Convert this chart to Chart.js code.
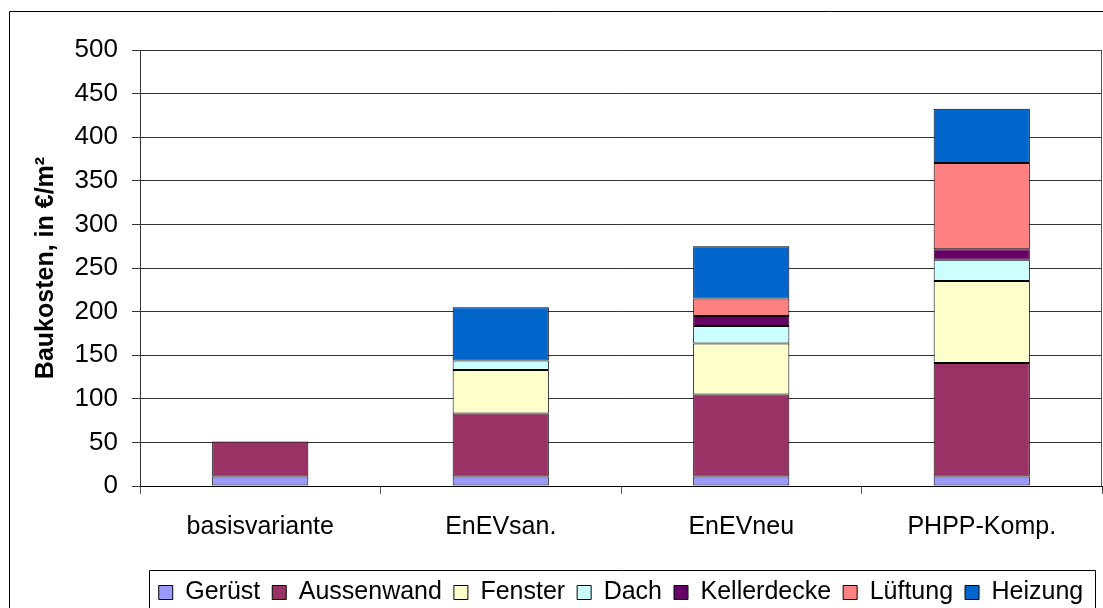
<!DOCTYPE html>
<html>
<head>
<meta charset="utf-8">
<script src="https://cdn.jsdelivr.net/npm/chart.js@4/dist/chart.umd.min.js"></script>
<style>
    html, body { margin: 0; padding: 0; background: #fff; overflow: hidden; }
    #wrap { position: relative; width: 1103px; height: 619px; }
</style>
</head>
<body>
<div id="wrap"><canvas id="costChart"></canvas></div>
<script>
const categories = ['basisvariante', 'EnEVsan.', 'EnEVneu', 'PHPP-Komp.'];
const geruest = [11, 11, 11, 11];
const aussenwand = [40, 72, 94, 130];
const fenster = [null, 50, 58.5, 94];
const dach = [null, 11, 20, 24.5];
const kellerdecke = [null, null, 11.5, 12];
const lueftung = [null, null, 20, 99];
const heizung = [null, 61, 60, 62];
const yTicks = [0, 50, 100, 150, 200, 250, 300, 350, 400, 450, 500];

const FONT = "'Liberation Sans', Arial, sans-serif";

function series(label, data, color) {
    return {
        label: label,
        data: data,
        backgroundColor: color,
        borderColor: '#000',
        borderWidth: 1,
        borderSkipped: false,
        barPercentage: 0.4,
        categoryPercentage: 1
    };
}

// outer frame, plot frame and legend box like the original
const framePlugin = {
    id: 'frames',
    afterDraw(chart) {
        const ctx = chart.ctx;
        const area = chart.chartArea;
        ctx.save();
        ctx.strokeStyle = '#000';
        ctx.lineWidth = 1;
        ctx.beginPath();
        ctx.moveTo(9.5, chart.height + 5);
        ctx.lineTo(9.5, 11.5);
        ctx.lineTo(chart.width + 5, 11.5);
        ctx.stroke();

        ctx.strokeStyle = '#555';
        ctx.beginPath();
        ctx.moveTo(Math.round(area.right) - 0.5, area.top);
        ctx.lineTo(Math.round(area.right) - 0.5, area.bottom);
        ctx.stroke();

        const boxes = chart.legend.legendHitBoxes || [];
        if (boxes.length) {
            const left = Math.min(...boxes.map((b) => b.left)) - 10;
            const right = Math.max(...boxes.map((b) => b.left + b.width)) + 12;
            const top = Math.min(...boxes.map((b) => b.top)) - 10;
            ctx.strokeStyle = '#000';
            ctx.beginPath();
            ctx.moveTo(Math.round(left) + 0.5, chart.height + 5);
            ctx.lineTo(Math.round(left) + 0.5, Math.round(top) + 0.5);
            ctx.lineTo(Math.round(right) + 0.5, Math.round(top) + 0.5);
            ctx.lineTo(Math.round(right) + 0.5, chart.height + 5);
            ctx.stroke();
        }
        ctx.restore();
    }
};

new Chart(document.getElementById('costChart'), {
    type: 'bar',
    data: {
        labels: categories,
        datasets: [
            series('Gerüst', geruest, '#9999FF'),
            series('Aussenwand', aussenwand, '#993366'),
            series('Fenster', fenster, '#FFFFCC'),
            series('Dach', dach, '#CCFFFF'),
            series('Kellerdecke', kellerdecke, '#660066'),
            series('Lüftung', lueftung, '#FF8080'),
            series('Heizung', heizung, '#0066CC')
        ]
    },
    options: {
        responsive: true,
        maintainAspectRatio: false,
        animation: false,
        layout: { padding: { left: 0, top: 50, right: 1, bottom: 4 } },
        plugins: {
            tooltip: { enabled: false },
            legend: {
                position: 'bottom',
                fullSize: false,
                labels: {
                    font: { family: FONT, size: 25 },
                    color: '#000',
                    boxWidth: 14,
                    boxHeight: 14,
                    padding: 12
                }
            }
        },
        scales: {
            x: {
                stacked: true,
                offset: true,
                afterFit(scale) { scale.height = 82; },
                grid: {
                    offset: true,
                    drawOnChartArea: false,
                    tickLength: 8,
                    color: '#555'
                },
                border: { color: '#000' },
                ticks: {
                    font: { family: FONT, size: 25 },
                    color: '#000',
                    padding: 18
                }
            },
            y: {
                stacked: true,
                min: 0,
                max: 500,
                afterFit(scale) { scale.width = 140; },
                afterBuildTicks(scale) { scale.ticks = yTicks.map((v) => ({ value: v })); },
                grid: { color: '#333', tickLength: 8 },
                border: { color: '#333' },
                ticks: {
                    font: { family: FONT, size: 26 },
                    color: '#000',
                    padding: 14
                },
                title: {
                    display: true,
                    text: 'Baukosten, in €/m²',
                    font: { family: FONT, size: 25, weight: 'bold' },
                    color: '#000',
                    padding: { top: 31, bottom: 0 }
                }
            }
        }
    },
    plugins: [framePlugin]
});
</script>
</body>
</html>
